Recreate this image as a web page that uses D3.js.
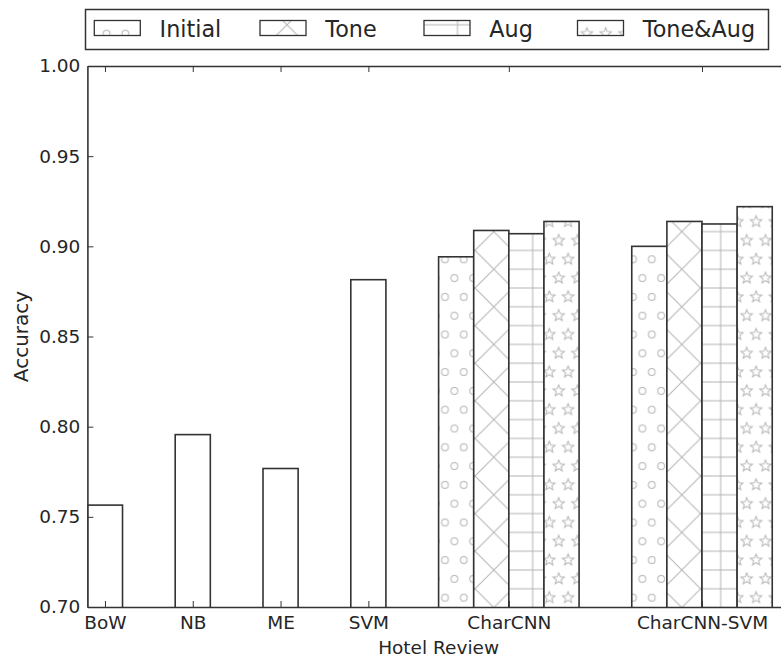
<!DOCTYPE html>
<html>
<head>
<meta charset="utf-8">
<script src="https://cdn.jsdelivr.net/npm/d3@7/dist/d3.min.js"></script>
<style>
  body { margin: 0; background: #fff; }
  svg { display: block; font-family: "DejaVu Sans", sans-serif; }
</style>
</head>
<body>
<svg id="chart" width="781" height="657"></svg>
<script>
// values
const categories = ['BoW', 'NB', 'ME', 'SVM', 'CharCNN', 'CharCNN-SVM'];
const variants = ['Initial', 'Tone', 'Aug', 'Tone&Aug'];
const baselineAcc = [0.7565, 0.7956, 0.7768, 0.8815];   // BoW, NB, ME, SVM
const charCnnAcc = [0.8942, 0.9088, 0.9070, 0.9138];
const charCnnSvmAcc = [0.9000, 0.9138, 0.9124, 0.9220];
const yTicks = [0.70, 0.75, 0.80, 0.85, 0.90, 0.95, 1.00];

// layout (x units, matplotlib style: bar width 0.4)
const groupPos = [0, 1, 2, 3, 4.6, 6.8];
const barW = 0.4;

const svg = d3.select('#chart');
const dark = '#333';
const hatchCol = '#b4b4b4';

const x = d3.scaleLinear().domain([-0.2, 7.8]).range([87.4, 789.8]);
const y = d3.scaleLinear().domain([0.70, 1.00]).range([607, 66]);

// hatch patterns, anchored to the page like matplotlib does
const s = 18.8;
const defs = svg.append('defs');

function tile(id, ox, oy, w, h) {
  return defs.append('pattern')
    .attr('id', id)
    .attr('patternUnits', 'userSpaceOnUse')
    .attr('x', ox).attr('y', oy)
    .attr('width', w).attr('height', h);
}

const pCirc = tile('hatch-o', 3.2, 14.9, s, 2 * s);
[[0, 0], [s, 0], [0, 2 * s], [s, 2 * s], [s / 2, s]].forEach(([cx, cy]) => {
  pCirc.append('circle').attr('cx', cx).attr('cy', cy).attr('r', 3.4)
    .attr('fill', 'none').attr('stroke', hatchCol).attr('stroke-width', 1);
});

const pX = tile('hatch-x', 5, 6, 2 * s, 2 * s);
pX.append('path')
  .attr('d', `M0,0L${2 * s},${2 * s}M${2 * s},0L0,${2 * s}`)
  .attr('stroke', hatchCol).attr('stroke-width', 1).attr('fill', 'none');

const pPlus = tile('hatch-plus', 6.3, 6, 2 * s, s);
pPlus.append('path')
  .attr('d', `M0,0H${2 * s}M0,${s}H${2 * s}M0,0V${s}M${2 * s},0V${s}`)
  .attr('stroke', hatchCol).attr('stroke-width', 1).attr('fill', 'none');

const starPath = (() => {
  const pts = [];
  for (let k = 0; k < 10; k++) {
    const r = k % 2 === 0 ? 6 : 2.6;
    const a = -Math.PI / 2 + k * Math.PI / 5;
    pts.push([r * Math.cos(a), r * Math.sin(a)]);
  }
  return 'M' + pts.map(p => p.join(',')).join('L') + 'Z';
})();
const pStar = tile('hatch-star', 13.5, 14.9, s, 2 * s);
[[0, 0], [s, 0], [0, 2 * s], [s, 2 * s], [s / 2, s]].forEach(([cx, cy]) => {
  pStar.append('path').attr('d', starPath)
    .attr('transform', `translate(${cx},${cy})`)
    .attr('fill', 'none').attr('stroke', hatchCol).attr('stroke-width', 1);
});

const hatchFor = {
  'Initial': 'url(#hatch-o)',
  'Tone': 'url(#hatch-x)',
  'Aug': 'url(#hatch-plus)',
  'Tone&Aug': 'url(#hatch-star)'
};

// bar records
const bars = [];
baselineAcc.forEach((v, i) => bars.push({ x0: groupPos[i] - barW / 2, v, fill: 'none' }));
[[4, charCnnAcc], [5, charCnnSvmAcc]].forEach(([gi, vals]) => {
  vals.forEach((v, j) => bars.push({
    x0: groupPos[gi] - 2 * barW + j * barW, v, fill: hatchFor[variants[j]]
  }));
});

defs.append('clipPath').attr('id', 'plot-clip')
  .append('rect').attr('x', x(-0.2)).attr('y', y(1.0))
  .attr('width', x(7.8) - x(-0.2)).attr('height', y(0.70) - y(1.0));

const plot = svg.append('g').attr('clip-path', 'url(#plot-clip)');
const barG = plot.selectAll('g.bar').data(bars).enter().append('g').attr('class', 'bar');
barG.append('rect')
  .attr('x', d => x(d.x0)).attr('y', d => y(d.v))
  .attr('width', d => x(d.x0 + barW) - x(d.x0))
  .attr('height', d => y(0.70) - y(d.v) + 2)
  .attr('fill', '#fff');
barG.append('rect')
  .attr('x', d => x(d.x0)).attr('y', d => y(d.v))
  .attr('width', d => x(d.x0 + barW) - x(d.x0))
  .attr('height', d => y(0.70) - y(d.v) + 2)
  .attr('fill', d => d.fill)
  .attr('stroke', dark).attr('stroke-width', 1.6);

// axes
const fs = 18.5;
const axLeft = svg.append('g').attr('transform', `translate(${x(-0.2)},0)`)
  .call(d3.axisLeft(y).tickValues(yTicks).tickFormat(d3.format('.2f'))
    .tickSize(-6).tickSizeOuter(0).tickPadding(7));
const axBottom = svg.append('g').attr('transform', `translate(0,${y(0.70)})`)
  .call(d3.axisBottom(x).tickValues(groupPos).tickFormat((d, i) => categories[i])
    .tickSize(-6).tickSizeOuter(0).tickPadding(9));
const axTop = svg.append('g').attr('transform', `translate(0,${y(1.0)})`)
  .call(d3.axisTop(x).tickValues(groupPos).tickFormat('')
    .tickSize(-6).tickSizeOuter(0));

[axLeft, axBottom, axTop].forEach(g => {
  g.attr('font-family', null).attr('font-size', fs);
  g.selectAll('.domain').attr('stroke', dark).attr('stroke-width', 1.6);
  g.selectAll('.tick line').attr('stroke', dark).attr('stroke-width', 1);
  g.selectAll('.tick text').attr('fill', '#262626');
});

svg.append('text')
  .attr('x', (x(-0.2) + x(7.8)) / 2).attr('y', 654)
  .attr('text-anchor', 'middle').attr('font-size', fs).attr('fill', '#262626')
  .text('Hotel Review');

svg.append('text')
  .attr('transform', `translate(28,${(y(0.70) + y(1.0)) / 2}) rotate(-90)`)
  .attr('text-anchor', 'middle').attr('font-size', 20).attr('fill', '#262626')
  .text('Accuracy');

// legend
const legendX = [94.3, 260, 424, 577.5];
const legend = svg.append('g');
legend.append('rect')
  .attr('x', 85.5).attr('y', 9.5).attr('width', 683).attr('height', 40)
  .attr('fill', '#fff').attr('stroke', dark).attr('stroke-width', 1.5);
const item = legend.selectAll('g.item').data(variants).enter().append('g').attr('class', 'item');
item.append('rect')
  .attr('x', (d, i) => legendX[i]).attr('y', 20.5).attr('width', 46).attr('height', 15)
  .attr('fill', d => hatchFor[d]).attr('stroke', dark).attr('stroke-width', 1.3);
item.append('text')
  .attr('x', (d, i) => legendX[i] + 65.3).attr('y', 36.5)
  .attr('font-size', 22.3).attr('fill', '#262626')
  .text(d => d);
</script>
</body>
</html>
